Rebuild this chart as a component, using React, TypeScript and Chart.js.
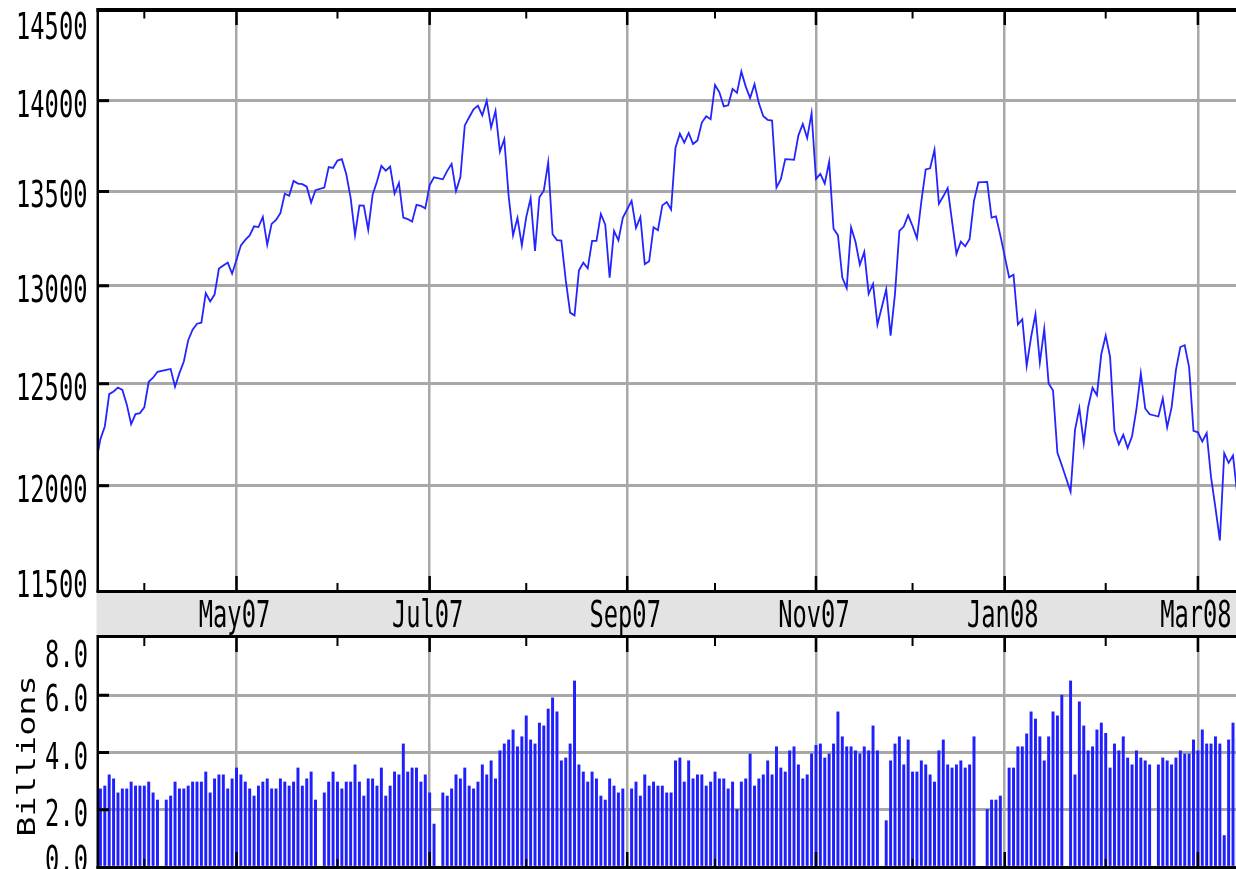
import React, { useEffect, useRef } from 'react';
import { Chart, registerables } from 'chart.js';

Chart.register(...registerables);

// ---------------- data ----------------
const START_DATE = '2007-03-16'; // first weekday in the series (one weekday per entry, holidays = null)
const MONTH_NAMES = ['Jan', 'Feb', 'Mar', 'Apr', 'May', 'Jun', 'Jul', 'Aug', 'Sep', 'Oct', 'Nov', 'Dec'];

const PRICE_TICKS = [11500, 12000, 12500, 13000, 13500, 14000, 14500];
const PRICE_TICK_LABELS = ['11500', '12000', '12500', '13000', '13500', '14000', '14500'];
const VOLUME_TICKS = [0, 2, 4, 6, 8];
const VOLUME_TICK_LABELS = ['0.0', '2.0', '4.0', '6.0', '8.0'];
const VOLUME_TITLE = 'Billions';

// visible weekday window (index units)
const X_MIN = 0.45;
const X_MAX = 259.68;

const CLOSES: (number | null)[] = [
  // Mar 2007 (from 16th)
  12110, 12226, 12288, 12448, 12461, 12481, 12469, 12397, 12300, 12349, 12354,
  // Apr 2007
  12382, 12510, 12530, 12560, null, 12569, 12574, 12485, 12553, 12612, 12720, 12773, 12804, 12809, 12962,
  12919, 12954, 13090, 13106, 13121, 13063,
  // May 2007
  13136, 13212, 13241, 13265, 13313, 13309, 13363, 13215, 13326, 13347, 13384, 13488, 13477, 13557,
  13543, 13540, 13526, 13441, 13507, null, 13521, 13633, 13628,
  // Jun 2007
  13668, 13676, 13595, 13466, 13267, 13425, 13424, 13295, 13482, 13554, 13639, 13613, 13635, 13489,
  13546, 13360, 13352, 13338, 13428, 13422, 13409,
  // Jul 2007
  13535, 13577, null, 13566, 13612, 13650, 13502, 13578, 13862, 13907, 13951, 13972, 13918, 14000,
  13851, 13943, 13717, 13785, 13474, 13265, 13358, 13212,
  // Aug 2007
  13362, 13463, 13182, 13469, 13504, 13658, 13271, 13240, 13237, 13029, 12861, 12846, 13079, 13121,
  13091, 13236, 13236, 13379, 13322, 13042, 13289, 13239, 13358,
  // Sep 2007
  null, 13449, 13305, 13363, 13113, 13128, 13308, 13292, 13425, 13443, 13403, 13739, 13816, 13767,
  13820, 13759, 13779, 13878, 13913, 13896,
  // Oct 2007
  14088, 14047, 13968, 13974, 14066, 14044, 14165, 14079, 14015, 14093, 13985, 13913, 13893, 13889,
  13522, 13567, 13676, 13675, 13672, 13807, 13870, 13792, 13930,
  // Nov 2007
  13568, 13595, 13543, 13661, 13300, 13266, 13043, 12988, 13307, 13231, 13110, 13177, 12958, 13010,
  12799, null, 12981, 12743, 12958, 13289, 13312, 13372,
  // Dec 2007
  13315, 13249, 13445, 13620, 13626, 13727, 13433, 13474, 13518, 13340, 13167, 13232, 13207, 13246,
  13451, 13549, null, 13552, 13360, 13366, 13265,
  // Jan 2008
  null, 13044, 13057, 12800, 12827, 12589, 12735, 12853, 12606, 12778, 12501, 12466, 12159, 12099,
  null, 11971, 12270, 12379, 12207, 12384, 12480, 12443, 12650,
  // Feb 2008
  12743, 12635, 12265, 12200, 12247, 12182, 12240, 12373, 12552, 12377, 12348, null, 12337, 12427,
  12284, 12381, 12570, 12685, 12694, 12582, 12266,
  // Mar 2008
  12259, 12214, 12255, 12040, 11894, 11740, 12157, 12110, 12146, 11951,
];

const VOLUMES: (number | null)[] = [
  // Mar 2007
  2.9, 2.73, 2.83, 3.22, 3.08, 2.59, 2.73, 2.73, 2.97, 2.83, 2.83,
  // Apr 2007
  2.83, 2.97, 2.59, 2.34, null, 2.34, 2.48, 2.97, 2.73, 2.73, 2.83, 2.97, 2.97, 2.97, 3.32, 2.59, 3.08,
  3.22, 3.22, 2.73, 3.08,
  // May 2007
  3.46, 3.22, 2.97, 2.73, 2.48, 2.83, 2.97, 3.08, 2.73, 2.73, 3.08, 2.97, 2.83, 2.97, 3.46, 2.83, 3.08,
  3.32, 2.34, null, 2.59, 2.97, 3.32,
  // Jun 2007
  2.97, 2.73, 2.97, 2.97, 3.57, 2.97, 2.48, 3.08, 3.08, 2.83, 3.46, 2.48, 2.83, 3.32, 3.22, 4.3, 3.32,
  3.46, 3.46, 2.97, 3.22,
  // Jul 2007
  2.59, 1.5, null, 2.59, 2.48, 2.73, 3.22, 3.08, 3.46, 2.83, 2.73, 2.97, 3.57, 3.22, 3.71, 3.08, 4.06,
  4.3, 4.44, 4.79, 4.2, 4.55,
  // Aug 2007
  5.28, 4.44, 4.3, 5.03, 4.93, 5.52, 5.91, 5.42, 3.71, 3.81, 4.3, 6.5, 3.57, 3.32, 2.97, 3.32, 3.08,
  2.48, 2.34, 3.08, 2.83, 2.59, 2.73,
  // Sep 2007
  null, 2.73, 2.97, 2.48, 3.22, 2.83, 2.97, 2.83, 2.83, 2.59, 2.59, 3.71, 3.81, 2.97, 3.71, 3.08, 3.22,
  3.22, 2.83, 2.97,
  // Oct 2007
  3.32, 3.08, 3.08, 2.73, 2.97, 2.01, 2.97, 3.08, 3.95, 2.83, 3.08, 3.22, 3.71, 3.22, 4.2, 3.46, 3.32,
  4.06, 4.2, 3.57, 3.08, 3.22, 3.95,
  // Nov 2007
  4.25, 4.3, 3.81, 3.95, 4.3, 5.42, 4.55, 4.2, 4.2, 4.06, 3.95, 4.2, 4.06, 4.93, 4.06, null, 1.62, 3.71,
  4.3, 4.55, 3.57, 4.44,
  // Dec 2007
  3.32, 3.32, 3.71, 3.57, 3.22, 2.97, 4.06, 4.44, 3.57, 3.46, 3.57, 3.71, 3.46, 3.57, 4.55, null, null,
  2.01, 2.34, 2.34, 2.48,
  // Jan 2008
  null, 3.46, 3.46, 4.2, 4.2, 4.65, 5.42, 5.17, 4.55, 3.71, 4.55, 5.42, 5.28, 6.0, null, 6.5, 3.22, 5.77,
  4.93, 4.06, 4.2, 4.79, 5.03,
  // Feb 2008
  4.67, 3.46, 4.3, 4.06, 4.55, 3.81, 3.57, 4.06, 3.81, 3.71, 3.57, null, 3.57, 3.81, 3.71, 3.57, 3.81,
  4.06, 3.95, 3.95, 4.44,
  // Mar 2008
  4.06, 4.79, 4.3, 4.3, 4.55, 4.3, 1.1, 4.44, 5.03, 4.5,
];

// ---------------- styles ----------------
const LINE_COLOR = '#2424ff';
const BAR_COLOR = '#2020ff';
const GRID_COLOR = '#a8a8a8';
const BAND_COLOR = '#e3e3e3';
const FONT_FAMILY = '"DejaVu Sans Mono", "Liberation Mono", monospace';

function weekdays(start: string, count: number): Date[] {
  const out: Date[] = [];
  const d = new Date(start + 'T00:00:00Z');
  while (out.length < count) {
    const w = d.getUTCDay();
    if (w !== 0 && w !== 6) out.push(new Date(d.getTime()));
    d.setUTCDate(d.getUTCDate() + 1);
  }
  return out;
}

const DATES = weekdays(START_DATE, CLOSES.length);
const MONTH_TICKS = DATES.map((d, i) => ({ d, i }))
  .filter(({ d, i }) => i > 0 && d.getUTCMonth() !== DATES[i - 1].getUTCMonth())
  .map(({ d, i }) => ({
    index: i,
    major: d.getUTCMonth() % 2 === 0,
    label: MONTH_NAMES[d.getUTCMonth()] + String(d.getUTCFullYear()).slice(2),
  }));

function isMajor(v: number) {
  const m = MONTH_TICKS.find((t) => t.index === v);
  return !!(m && m.major);
}

function drawText(ctx: CanvasRenderingContext2D, text: string, x: number, y: number, size: number, sx: number,
  align: CanvasTextAlign, rot = 0) {
  ctx.save();
  ctx.translate(x, y);
  if (rot) ctx.rotate(rot);
  ctx.scale(sx, 1);
  ctx.font = `${size}px ${FONT_FAMILY}`;
  ctx.textAlign = align;
  ctx.textBaseline = 'alphabetic';
  ctx.fillStyle = '#000';
  ctx.fillText(text, 0, 0);
  ctx.restore();
}

const LABEL_SIZE = 37;
const LABEL_SX = 0.642;

const topDecor = {
  id: 'topDecor',
  afterDraw(chart: any) {
    const ctx: CanvasRenderingContext2D = chart.ctx;
    const a = chart.chartArea;
    const xs = chart.scales.x;
    const ys = chart.scales.y;
    const w = a.right - a.left + 1.5;
    ctx.save();
    // band under the price panel
    ctx.fillStyle = BAND_COLOR;
    ctx.fillRect(a.left - 1.5, a.bottom - 2, w, chart.height - a.bottom + 2);
    ctx.fillStyle = '#000';
    ctx.fillRect(a.left - 1.5, a.bottom - 2, w, 3);
    ctx.fillRect(a.left - 1.5, chart.height - 3, w, 3);
    // top border and left axis
    ctx.fillRect(a.left - 1.5, a.top - 5, w, 4);
    ctx.fillRect(a.left - 1.5, a.top - 5, 2.5, a.bottom - a.top + 5);
    // y ticks
    PRICE_TICKS.forEach((v, k) => {
      const y = ys.getPixelForValue(v);
      if (k > 0 && k < PRICE_TICKS.length - 1) ctx.fillRect(a.left, y - 1.5, 11, 3);
      let base = y + 16;
      if (k === PRICE_TICKS.length - 1) base = a.top + 26;
      if (k === 0) base = a.bottom + 5;
      drawText(ctx, PRICE_TICK_LABELS[k], 87.5, base, LABEL_SIZE, LABEL_SX, 'right');
    });
    // x ticks and labels
    MONTH_TICKS.forEach((m) => {
      const x = xs.getPixelForValue(m.index);
      if (x < a.left || x > a.right) return;
      ctx.fillStyle = '#000';
      if (m.major) {
        ctx.fillRect(x - 1.25, a.top - 1, 2.5, 13);
        ctx.fillRect(x - 1.25, a.bottom - 16, 2.5, 14);
        drawText(ctx, m.label, x - 2, 627, LABEL_SIZE, LABEL_SX, 'center');
      } else {
        ctx.fillRect(x - 1, a.top - 1, 2, 6.5);
        ctx.fillRect(x - 1, a.bottom - 9, 2, 7);
      }
    });
    ctx.restore();
  },
};

const bottomDecor = {
  id: 'bottomDecor',
  afterDraw(chart: any) {
    const ctx: CanvasRenderingContext2D = chart.ctx;
    const a = chart.chartArea;
    const xs = chart.scales.x;
    const ys = chart.scales.y;
    const w = a.right - a.left + 1.5;
    ctx.save();
    ctx.fillStyle = '#000';
    ctx.fillRect(a.left - 1.5, 0, 2.5, chart.height);
    ctx.fillRect(a.left - 1.5, a.bottom - 1, w, 3);
    VOLUME_TICKS.forEach((v, k) => {
      const y = ys.getPixelForValue(v);
      if (k > 0 && k < VOLUME_TICKS.length - 1) ctx.fillRect(a.left, y - 1.5, 11, 3);
      let base = y + 16;
      if (k === VOLUME_TICKS.length - 1) base = a.top + 29;
      if (k === 0) base = a.bottom + 5;
      drawText(ctx, VOLUME_TICK_LABELS[k], 88, base, LABEL_SIZE, LABEL_SX, 'right');
    });
    MONTH_TICKS.forEach((m) => {
      const x = xs.getPixelForValue(m.index);
      if (x < a.left || x > a.right) return;
      ctx.fillStyle = '#000';
      if (m.major) {
        ctx.fillRect(x - 1.25, a.top, 2.5, 14);
        ctx.fillRect(x - 1.25, a.bottom - 15, 2.5, 14);
      } else {
        ctx.fillRect(x - 1, a.top, 2, 8);
        ctx.fillRect(x - 1, a.bottom - 8, 2, 7);
      }
    });
    drawText(ctx, VOLUME_TITLE, 35, 118, 25, 1.34, 'center', -Math.PI / 2);
    ctx.restore();
  },
};

export default function App() {
  const topRef = useRef<HTMLCanvasElement>(null);
  const botRef = useRef<HTMLCanvasElement>(null);

  useEffect(() => {
    document.body.style.margin = '0';
    const xGrid = {
      color: (c: any) => (c.tick && isMajor(c.tick.value) ? GRID_COLOR : 'rgba(0,0,0,0)'),
      lineWidth: 2.5,
      drawTicks: false,
    };
    const top = new Chart(topRef.current as HTMLCanvasElement, {
      type: 'line',
      data: {
        datasets: [{
          data: CLOSES.map((v, i) => ({ x: i, y: v })) as any,
          borderColor: LINE_COLOR,
          borderWidth: 1.8,
          pointRadius: 0,
          spanGaps: true,
          tension: 0,
          fill: false,
        }],
      },
      options: {
        animation: false,
        responsive: false,
        devicePixelRatio: 1,
        events: [],
        layout: { padding: { top: 13, right: 0, left: 0, bottom: 0 } },
        plugins: { legend: { display: false }, tooltip: { enabled: false } },
        scales: {
          x: {
            type: 'linear',
            min: X_MIN,
            max: X_MAX,
            afterBuildTicks: (s: any) => { s.ticks = MONTH_TICKS.map((m) => ({ value: m.index })); },
            afterFit: (s: any) => { s.height = 46; },
            grid: xGrid as any,
            border: { display: false },
            ticks: { display: false },
          },
          y: {
            type: 'logarithmic',
            min: 11500,
            max: 14500,
            afterBuildTicks: (s: any) => { s.ticks = PRICE_TICKS.map((v) => ({ value: v })); },
            afterFit: (s: any) => { s.width = 98; },
            grid: {
              color: (c: any) => (c.tick && c.tick.value === 14500 ? 'rgba(0,0,0,0)' : GRID_COLOR),
              lineWidth: 3,
              drawTicks: false,
            },
            border: { display: false },
            ticks: { display: false },
          },
        },
      } as any,
      plugins: [topDecor],
    });

    const bot = new Chart(botRef.current as HTMLCanvasElement, {
      type: 'bar',
      data: {
        datasets: [{
          data: VOLUMES.map((v, i) => ({ x: i, y: v })) as any,
          backgroundColor: BAR_COLOR,
          borderWidth: 0,
          barThickness: 2.3,
        }],
      },
      options: {
        animation: false,
        responsive: false,
        devicePixelRatio: 1,
        events: [],
        layout: { padding: { top: 0, right: 0, left: 0, bottom: 0 } },
        plugins: { legend: { display: false }, tooltip: { enabled: false } },
        scales: {
          x: {
            type: 'linear',
            offset: false,
            min: X_MIN,
            max: X_MAX,
            afterBuildTicks: (s: any) => { s.ticks = MONTH_TICKS.map((m) => ({ value: m.index })); },
            afterFit: (s: any) => { s.height = 2; },
            grid: { ...xGrid, offset: false } as any,
            border: { display: false },
            ticks: { display: false },
          },
          y: {
            type: 'linear',
            min: 0,
            max: 8,
            afterBuildTicks: (s: any) => { s.ticks = VOLUME_TICKS.map((v) => ({ value: v })); },
            afterFit: (s: any) => { s.width = 98; },
            grid: {
              color: (c: any) => (c.tick && c.tick.value === 8 ? 'rgba(0,0,0,0)' : GRID_COLOR),
              lineWidth: 3,
              drawTicks: false,
            },
            border: { display: false },
            ticks: { display: false },
          },
        },
      } as any,
      plugins: [bottomDecor],
    });

    return () => {
      top.destroy();
      bot.destroy();
    };
  }, []);

  return (
    <div style={{ width: 1236, height: 869, background: '#fff', overflow: 'hidden' }}>
      <canvas ref={topRef} width={1236} height={638} style={{ display: 'block' }} />
      <canvas ref={botRef} width={1236} height={231} style={{ display: 'block' }} />
    </div>
  );
}
